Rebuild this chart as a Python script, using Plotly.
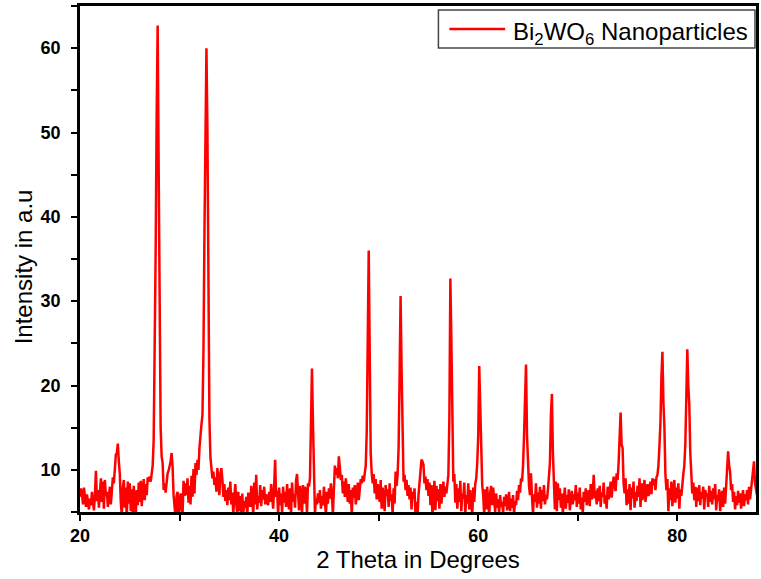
import numpy as np
import plotly.graph_objects as go

# XRD scan: 2-theta from 20.0 to 88.0 deg, step 0.1 deg
two_theta_start = 20.0
two_theta_step = 0.1

# Intensity (a.u.), one row per degree (d.0 ... d.9)
intensity_rows = [
    [6.8, 7.8, 7.2, 5.9, 7.9, 6.4, 5.6, 7.1, 6.2, 5.3],        # 20
    [6.6, 5.8, 7.4, 6.1, 5.2, 7.0, 9.9, 6.3, 7.6, 5.5],        # 21
    [7.3, 9.0, 6.2, 8.6, 5.4, 8.8, 6.9, 7.4, 5.6, 6.8],        # 22
    [8.0, 5.9, 7.2, 9.1, 8.4, 10.6, 11.8, 12.0, 13.1, 11.0],   # 23
    [9.5, 6.1, 4.6, 7.8, 8.8, 5.5, 7.9, 4.2, 8.6, 6.0],        # 24
    [8.4, 5.1, 7.7, 4.5, 8.1, 6.3, 4.4, 7.6, 5.8, 8.5],        # 25
    [6.2, 8.7, 5.7, 7.5, 8.9, 6.4, 8.3, 7.0, 9.1, 8.6],        # 26
    [9.2, 8.6, 9.4, 10.5, 13.5, 22.0, 36.0, 52.0, 62.7, 46.0], # 27
    [26.0, 15.0, 11.6, 10.8, 7.6, 8.4, 7.3, 8.9, 9.6, 9.9],    # 28
    [10.3, 11.0, 12.0, 10.4, 7.0, 5.2, 4.3, 6.9, 7.4, 4.6],    # 29
    [5.3, 7.2, 6.0, 4.6, 8.7, 6.9, 8.4, 7.0, 9.0, 6.1],        # 30
    [8.1, 5.9, 9.3, 6.8, 10.1, 7.2, 10.8, 9.4, 11.2, 10.0],    # 31
    [12.6, 14.8, 15.4, 16.5, 24.0, 38.0, 52.0, 60.0, 50.0, 32.0],  # 32
    [16.0, 11.5, 10.2, 9.0, 9.8, 8.2, 9.1, 7.4, 10.2, 8.5],    # 33
    [7.0, 9.6, 10.2, 8.9, 6.8, 8.3, 6.3, 7.6, 5.8, 7.9],       # 34
    [6.4, 8.6, 5.9, 7.3, 4.7, 6.8, 8.3, 6.1, 4.5, 7.4],        # 35
    [5.1, 6.9, 4.6, 7.2, 4.7, 6.3, 5.5, 6.8, 4.4, 7.3],        # 36
    [6.2, 5.6, 8.1, 7.0, 4.6, 8.5, 5.9, 9.4, 5.3, 6.9],        # 37
    [6.1, 8.2, 5.7, 7.6, 6.5, 8.0, 5.9, 7.1, 6.3, 5.8],        # 38
    [7.4, 6.2, 8.3, 7.0, 5.4, 8.0, 11.2, 6.8, 7.5, 4.6],       # 39
    [7.9, 5.8, 7.2, 4.9, 8.0, 6.1, 7.4, 5.6, 8.3, 6.4],        # 40
    [5.3, 7.8, 4.8, 8.5, 6.2, 7.1, 5.5, 8.7, 9.5, 7.3],        # 41
    [5.2, 8.1, 7.1, 4.6, 8.2, 6.0, 8.0, 7.3, 4.9, 8.4],        # 42
    [8.0, 9.0, 14.0, 22.0, 15.5, 8.5, 4.8, 6.6, 5.9, 7.2],     # 43
    [6.1, 7.6, 5.4, 6.9, 5.8, 8.0, 6.3, 4.6, 7.4, 6.0],        # 44
    [7.8, 6.6, 8.4, 7.1, 4.7, 9.2, 10.5, 9.4, 10.2, 9.0],      # 45
    [11.6, 10.3, 8.8, 9.4, 7.2, 8.6, 6.8, 9.0, 7.5, 6.2],      # 46
    [8.3, 6.0, 7.6, 4.5, 7.9, 6.7, 8.2, 5.9, 7.0, 8.5],        # 47
    [6.4, 7.8, 8.9, 8.4, 9.3, 8.6, 9.8, 10.5, 14.5, 26.0],     # 48
    [36.0, 24.0, 12.0, 9.6, 8.4, 9.5, 7.2, 8.9, 6.5, 8.3],     # 49
    [7.5, 6.2, 8.8, 5.4, 7.9, 6.6, 5.1, 8.2, 6.9, 7.7],        # 50
    [5.6, 8.4, 6.3, 7.1, 4.7, 7.8, 6.0, 9.8, 8.1, 9.4],        # 51
    [12.5, 21.0, 30.6, 22.0, 12.0, 8.6, 9.4, 7.6, 8.8, 6.9],   # 52
    [8.2, 6.5, 7.9, 5.3, 7.4, 6.6, 7.8, 4.5, 6.2, 4.4],        # 53
    [7.0, 8.8, 9.7, 11.2, 11.0, 10.6, 8.4, 9.2, 7.6, 8.9],     # 54
    [6.9, 8.5, 5.8, 8.2, 4.6, 7.6, 8.7, 5.2, 8.1, 6.3],        # 55
    [7.7, 5.4, 8.3, 6.0, 7.4, 8.6, 6.8, 8.0, 7.2, 8.4],        # 56
    [9.4, 16.0, 32.7, 25.5, 13.0, 8.6, 9.5, 6.1, 8.3, 5.4],    # 57
    [7.8, 6.2, 8.7, 5.1, 7.2, 6.6, 8.5, 4.7, 7.0, 6.0],        # 58
    [8.4, 5.3, 7.6, 6.4, 4.6, 7.9, 6.2, 8.3, 9.0, 10.8],       # 59
    [14.0, 22.3, 16.5, 10.0, 8.2, 7.0, 4.6, 7.7, 5.3, 8.0],    # 60
    [6.2, 4.5, 7.3, 8.1, 5.8, 7.9, 6.4, 5.0, 7.2, 5.5],        # 61
    [6.5, 4.8, 7.0, 5.6, 6.2, 4.9, 6.8, 5.7, 7.1, 5.2],        # 62
    [6.0, 7.4, 5.1, 6.6, 5.5, 7.0, 4.7, 6.3, 5.8, 7.5],        # 63
    [6.4, 8.2, 7.3, 9.0, 8.6, 10.5, 14.0, 20.0, 22.5, 14.0],   # 64
    [9.5, 8.1, 7.0, 9.6, 6.8, 4.8, 7.1, 6.2, 8.4, 5.5],        # 65
    [7.3, 6.0, 8.0, 5.4, 7.6, 6.3, 8.2, 5.9, 7.0, 6.5],        # 66
    [7.6, 8.9, 10.8, 16.5, 19.0, 12.0, 7.9, 5.3, 8.6, 5.1],    # 67
    [8.4, 6.4, 7.8, 5.5, 7.2, 4.8, 6.6, 7.9, 5.4, 7.0],        # 68
    [6.1, 7.7, 5.2, 6.8, 7.5, 5.9, 7.1, 6.4, 8.2, 5.6],        # 69
    [7.3, 6.0, 7.9, 5.3, 6.7, 4.9, 7.4, 6.2, 7.8, 5.8],        # 70
    [6.9, 7.6, 5.7, 8.3, 6.5, 7.2, 9.4, 6.6, 7.5, 5.9],        # 71
    [7.8, 6.3, 8.1, 5.6, 7.3, 6.8, 8.5, 6.0, 7.0, 5.4],        # 72
    [8.0, 6.5, 7.4, 8.6, 6.7, 7.8, 9.2, 8.1, 7.5, 9.6],        # 73
    [8.8, 10.8, 13.5, 16.8, 13.0, 12.6, 8.4, 7.2, 9.0, 5.8],   # 74
    [7.7, 6.0, 8.3, 5.2, 7.9, 6.6, 8.6, 5.5, 7.4, 6.3],        # 75
    [8.1, 6.8, 9.0, 5.6, 8.4, 6.4, 7.7, 8.8, 6.2, 7.5],        # 76
    [8.3, 6.9, 7.8, 8.6, 7.1, 9.0, 8.2, 8.9, 7.6, 9.1],        # 77
    [9.4, 10.5, 12.8, 15.5, 21.0, 24.0, 18.0, 15.0, 9.5, 7.6], # 78
    [8.9, 5.1, 7.8, 6.4, 8.6, 5.7, 7.3, 8.8, 6.1, 7.9],        # 79
    [6.6, 8.4, 5.4, 7.7, 6.9, 8.9, 9.5, 10.5, 13.0, 18.5],     # 80
    [24.3, 20.0, 17.7, 12.0, 9.0, 7.2, 8.5, 6.4, 8.0, 5.6],    # 81
    [7.9, 6.3, 8.2, 5.8, 7.4, 6.6, 8.0, 5.3, 7.6, 6.9],        # 82
    [7.2, 5.6, 8.1, 6.2, 7.5, 5.9, 7.8, 6.5, 8.3, 5.2],        # 83
    [7.0, 6.3, 7.7, 5.1, 6.8, 7.5, 5.6, 7.9, 6.0, 8.4],        # 84
    [9.4, 12.2, 10.5, 9.8, 7.6, 8.3, 6.2, 7.4, 5.3, 6.9],      # 85
    [5.8, 7.5, 6.1, 7.2, 5.4, 6.9, 7.6, 5.7, 7.1, 6.4],        # 86
    [7.6, 5.9, 8.0, 6.5, 7.5, 8.6, 10.2, 11.0, 8.4, 7.8],      # 87
    [7.0],                                                     # 88
]

series_name = "Bi<sub>2</sub>WO<sub>6</sub> Nanoparticles"
x_title = "2 Theta in Degrees"
y_title = "Intensity in a.u"
x_tickvals = [20, 40, 60, 80]
y_tickvals = [10, 20, 30, 40, 50, 60]
line_color = "#ff0000"

intensity = [v for row in intensity_rows for v in row]
two_theta = np.round(two_theta_start + two_theta_step * np.arange(len(intensity)), 1)

fig = go.Figure()
fig.add_trace(go.Scatter(
    x=two_theta, y=intensity, mode="lines", name=series_name,
    line=dict(color=line_color, width=2.5), showlegend=False,
))

tick_font = dict(family="Arial", size=18, color="black")
title_font = dict(family="Arial", size=24, color="black")

# legend box drawn in paper coordinates (top-right corner of the frame)
legend_box = dict(x0=0.5302, x1=0.9985, y0=0.917, y1=0.992)
legend_line = dict(x0=0.5464, x1=0.6289, y=0.9545)

fig.update_layout(
    width=761, height=579,
    margin=dict(l=80, r=2, t=6, b=67),
    paper_bgcolor="white", plot_bgcolor="white",
    showlegend=False,
    shapes=[
        dict(type="rect", xref="paper", yref="paper", **legend_box,
             line=dict(color="#444444", width=1.5), fillcolor="white", layer="above"),
        dict(type="line", xref="paper", yref="paper",
             x0=legend_line["x0"], x1=legend_line["x1"],
             y0=legend_line["y"], y1=legend_line["y"],
             line=dict(color=line_color, width=2.5), layer="above"),
    ],
    annotations=[
        dict(text=y_title, textangle=-90, font=title_font, showarrow=False,
             xref="paper", yref="paper", x=-0.084, y=0.484,
             xanchor="center", yanchor="middle"),
        dict(text=series_name, font=dict(family="Arial", size=24, color="black"),
             showarrow=False, xref="paper", yref="paper",
             x=0.6377, y=0.946, xanchor="left", yanchor="middle"),
    ],
)
fig.update_xaxes(
    range=[20, 87.9], tickvals=x_tickvals,
    ticktext=["<b>%d</b>" % v for v in x_tickvals],
    ticks="outside", ticklen=6, tickwidth=2,
    tickcolor="black", tickfont=tick_font, ticklabelstandoff=0,
    minor=dict(dtick=10, tick0=20, ticks="outside", ticklen=6, tickwidth=2, tickcolor="black"),
    showline=True, linecolor="black", linewidth=2.5, mirror=True,
    showgrid=False, zeroline=False,
    title=dict(text=x_title, font=title_font, standoff=2),
)
fig.update_yaxes(
    range=[5, 65], tickvals=y_tickvals,
    ticktext=["<b>%d</b>" % v for v in y_tickvals],
    ticks="outside", ticklen=6, tickwidth=2,
    tickcolor="black", tickfont=tick_font, ticklabelstandoff=7,
    minor=dict(dtick=5, tick0=0, ticks="outside", ticklen=6, tickwidth=2, tickcolor="black"),
    showline=True, linecolor="black", linewidth=2.5, mirror=True,
    showgrid=False, zeroline=False,
)

fig.write_html("out.html")
